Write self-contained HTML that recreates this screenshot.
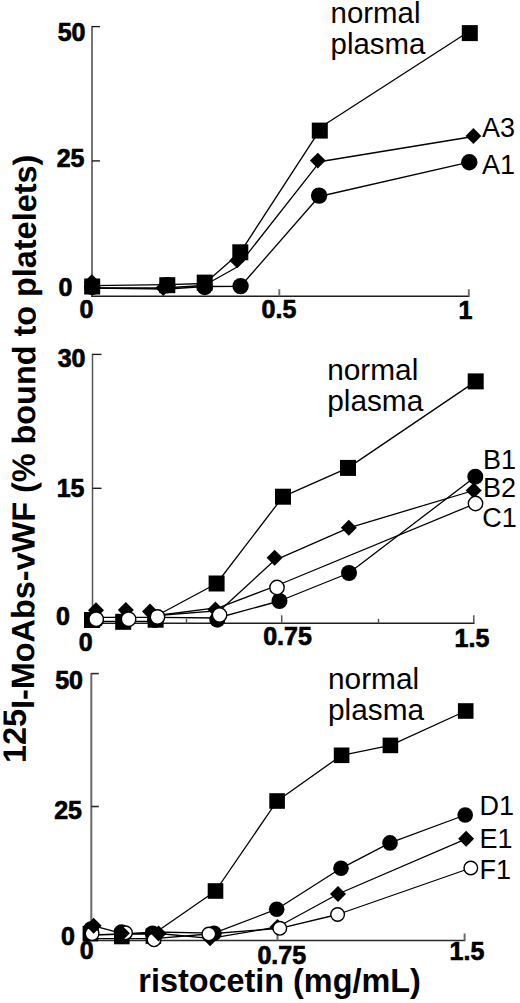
<!DOCTYPE html>
<html><head><meta charset="utf-8"><style>
html,body{margin:0;padding:0;background:#fff;width:520px;height:1003px;overflow:hidden}
svg{display:block;font-family:"Liberation Sans",sans-serif}
</style></head><body>
<svg width="520" height="1003" viewBox="0 0 520 1003">
<path d="M92.0 26.0V296.2" fill="none" stroke="#6e6e6e" stroke-width="1.9"/>
<path d="M91.1 296.2H469.5" fill="none" stroke="#1e1e1e" stroke-width="1.4"/>
<path d="M92.0 26.6h8" stroke="#1e1e1e" stroke-width="1.4"/>
<path d="M92.0 160.9h8" stroke="#1e1e1e" stroke-width="1.4"/>
<path d="M279.3 296.2v-7" stroke="#6e6e6e" stroke-width="1.9"/>
<path d="M468.8 296.2v-7" stroke="#6e6e6e" stroke-width="1.9"/>
<path d="M92.5 353.79999999999995V623.3" fill="none" stroke="#555" stroke-width="1.5"/>
<path d="M91.6 623.3H474.5" fill="none" stroke="#1e1e1e" stroke-width="1.4"/>
<path d="M92.5 354.4h9" stroke="#1e1e1e" stroke-width="1.4"/>
<path d="M92.5 488.3h9" stroke="#1e1e1e" stroke-width="1.4"/>
<path d="M186.5 623.3v-4.5" stroke="#555" stroke-width="1.5"/>
<path d="M281.7 623.3v-8" stroke="#555" stroke-width="1.5"/>
<path d="M378.5 623.3v-4.5" stroke="#555" stroke-width="1.5"/>
<path d="M473.8 623.3v-8" stroke="#555" stroke-width="1.5"/>
<path d="M91.3 673.0V940.5" fill="none" stroke="#6a6a6a" stroke-width="2.0"/>
<path d="M90.39999999999999 940.5H465.3" fill="none" stroke="#2a2a2a" stroke-width="1.6"/>
<path d="M91.3 673.6h7.5" stroke="#2a2a2a" stroke-width="1.6"/>
<path d="M91.3 806.5h7.5" stroke="#2a2a2a" stroke-width="1.6"/>
<path d="M277.5 940.5v-7" stroke="#6a6a6a" stroke-width="2.0"/>
<path d="M464.6 940.5v-7" stroke="#6a6a6a" stroke-width="2.0"/>
<path d="M92.0 285.7L167.3 284.6L204.7 283.5L240.3 252.3L319.8 130.2" fill="none" stroke="#000" stroke-width="1.3" stroke-linejoin="round"/>
<path d="M319.8 127.8L469.8 31.0" fill="none" stroke="#000" stroke-width="1.3" stroke-linejoin="round"/>
<path d="M92.0 288.0L163.3 288.0L204.0 285.5L237.2 267.0L317.8 164.4" fill="none" stroke="#000" stroke-width="1.3" stroke-linejoin="round"/>
<path d="M317.8 162.0L473.4 136.5" fill="none" stroke="#000" stroke-width="1.3" stroke-linejoin="round"/>
<path d="M92.0 288.0L167.3 289.0L204.7 286.5L240.6 286.3L319.1 196.5L469.3 162.2" fill="none" stroke="#000" stroke-width="1.3" stroke-linejoin="round"/>
<path d="M96.0 617.3L126.0 617.3L157.0 617.3L217.3 618.0L279.5 601.0L349.0 573.0L475.3 476.7" fill="none" stroke="#000" stroke-width="1.3" stroke-linejoin="round"/>
<path d="M92.0 621.3L123.2 621.3L157.0 621.3" fill="none" stroke="#000" stroke-width="1.3" stroke-linejoin="round"/>
<path d="M157.0 615.5L216.6 583.5L283.0 496.7L348.0 467.9L475.7 381.4" fill="none" stroke="#000" stroke-width="1.3" stroke-linejoin="round"/>
<path d="M157.0 615.5L219.6 610.7L274.6 560.3L348.8 527.8L473.7 490.5" fill="none" stroke="#000" stroke-width="1.3" stroke-linejoin="round"/>
<path d="M157.0 615.5L219.6 607.4L277.0 585.5L475.5 503.5" fill="none" stroke="#000" stroke-width="1.3" stroke-linejoin="round"/>
<path d="M93.6 925.8L121.9 933.3L158.6 933.5L210.1 938.3L277.5 927.0L338.0 894.0L466.1 838.8" fill="none" stroke="#000" stroke-width="1.3" stroke-linejoin="round"/>
<path d="M92.0 934.6L121.5 934.3L153.0 932.0L214.0 933.2L276.7 909.2L341.0 868.3L390.0 842.9L465.2 815.0" fill="none" stroke="#000" stroke-width="1.3" stroke-linejoin="round"/>
<path d="M92.0 938.6L125.5 938.6L154.0 938.6L208.8 934.0L279.8 928.3L337.6 914.5L470.8 868.0" fill="none" stroke="#000" stroke-width="1.3" stroke-linejoin="round"/>
<path d="M91.5 935.0L121.8 934.0L153.4 934.0L215.5 891.0L277.1 801.0L341.6 755.3L390.4 745.4L465.7 711.0" fill="none" stroke="#000" stroke-width="1.3" stroke-linejoin="round"/>
<circle cx="92.2" cy="287.0" r="8.2" fill="#000"/>
<circle cx="167.3" cy="285.3" r="8.2" fill="#000"/>
<circle cx="204.7" cy="287.0" r="8.2" fill="#000"/>
<circle cx="240.6" cy="286.1" r="8.2" fill="#000"/>
<circle cx="319.1" cy="195.6" r="8.2" fill="#000"/>
<circle cx="469.3" cy="162.2" r="8.2" fill="#000"/>
<path d="M91.8 274.2L99.7 282.1L91.8 290.0L83.9 282.1Z" fill="#000"/>
<path d="M163.3 280.1L171.2 288.0L163.3 295.9L155.4 288.0Z" fill="#000"/>
<path d="M204.0 277.1L211.9 285.0L204.0 292.9L196.1 285.0Z" fill="#000"/>
<path d="M237.2 252.5L245.1 260.4L237.2 268.3L229.3 260.4Z" fill="#000"/>
<path d="M317.8 152.7L325.7 160.6L317.8 168.5L309.9 160.6Z" fill="#000"/>
<path d="M473.4 128.1L481.3 136.0L473.4 143.9L465.5 136.0Z" fill="#000"/>
<rect x="84.2" y="278.5" width="16" height="16" fill="#000"/>
<rect x="159.3" y="277.2" width="16" height="16" fill="#000"/>
<rect x="196.7" y="274.6" width="16" height="16" fill="#000"/>
<rect x="232.3" y="244.3" width="16" height="16" fill="#000"/>
<rect x="311.8" y="122.6" width="16" height="16" fill="#000"/>
<rect x="461.8" y="25.1" width="16" height="16" fill="#000"/>
<rect x="84.0" y="612.0" width="16" height="16" fill="#000"/>
<rect x="115.2" y="613.8" width="16" height="16" fill="#000"/>
<rect x="147.6" y="611.7" width="16" height="16" fill="#000"/>
<rect x="208.6" y="575.5" width="16" height="16" fill="#000"/>
<rect x="275.0" y="488.7" width="16" height="16" fill="#000"/>
<rect x="340.0" y="459.9" width="16" height="16" fill="#000"/>
<rect x="467.7" y="373.4" width="16" height="16" fill="#000"/>
<path d="M96.0 602.2L104.0 610.2L96.0 618.2L88.0 610.2Z" fill="#000"/>
<path d="M125.8 602.0L133.8 610.0L125.8 618.0L117.8 610.0Z" fill="#000"/>
<path d="M150.0 603.5L158.0 611.5L150.0 619.5L142.0 611.5Z" fill="#000"/>
<path d="M215.4 601.5L223.4 609.5L215.4 617.5L207.4 609.5Z" fill="#000"/>
<path d="M274.6 549.7L282.6 557.7L274.6 565.7L266.6 557.7Z" fill="#000"/>
<path d="M348.8 519.8L356.8 527.8L348.8 535.8L340.8 527.8Z" fill="#000"/>
<path d="M473.7 482.5L481.7 490.5L473.7 498.5L465.7 490.5Z" fill="#000"/>
<circle cx="96.0" cy="620.0" r="8" fill="#000"/>
<circle cx="126.0" cy="620.0" r="8" fill="#000"/>
<circle cx="155.0" cy="620.0" r="8" fill="#000"/>
<circle cx="217.3" cy="619.7" r="8" fill="#000"/>
<circle cx="279.5" cy="601.0" r="8" fill="#000"/>
<circle cx="349.0" cy="573.0" r="8" fill="#000"/>
<circle cx="475.3" cy="476.7" r="8" fill="#000"/>
<circle cx="96.2" cy="619.2" r="7.2" fill="#fff" stroke="#000" stroke-width="1.4"/>
<circle cx="128.6" cy="619.2" r="7.2" fill="#fff" stroke="#000" stroke-width="1.4"/>
<circle cx="157.5" cy="616.9" r="7.2" fill="#fff" stroke="#000" stroke-width="1.4"/>
<circle cx="219.6" cy="615.0" r="7.2" fill="#fff" stroke="#000" stroke-width="1.4"/>
<circle cx="277.0" cy="587.5" r="7.2" fill="#fff" stroke="#000" stroke-width="1.4"/>
<circle cx="475.5" cy="503.5" r="7.2" fill="#fff" stroke="#000" stroke-width="1.4"/>
<rect x="82.6" y="925.8" width="15.6" height="15.6" fill="#000"/>
<rect x="114.0" y="928.7" width="15.6" height="15.6" fill="#000"/>
<rect x="145.6" y="928.3" width="15.6" height="15.6" fill="#000"/>
<rect x="207.7" y="883.2" width="15.6" height="15.6" fill="#000"/>
<rect x="269.3" y="793.2" width="15.6" height="15.6" fill="#000"/>
<rect x="333.8" y="747.5" width="15.6" height="15.6" fill="#000"/>
<rect x="382.6" y="737.6" width="15.6" height="15.6" fill="#000"/>
<rect x="457.9" y="703.2" width="15.6" height="15.6" fill="#000"/>
<circle cx="91.0" cy="929.0" r="7.8" fill="#000"/>
<circle cx="121.5" cy="932.0" r="7.8" fill="#000"/>
<circle cx="152.5" cy="933.2" r="7.8" fill="#000"/>
<circle cx="214.0" cy="933.2" r="7.8" fill="#000"/>
<circle cx="276.7" cy="909.2" r="7.8" fill="#000"/>
<circle cx="341.0" cy="868.3" r="7.8" fill="#000"/>
<circle cx="390.0" cy="842.9" r="7.8" fill="#000"/>
<circle cx="465.2" cy="815.0" r="7.8" fill="#000"/>
<circle cx="92.1" cy="933.6" r="6.8" fill="#fff" stroke="#000" stroke-width="1.4"/>
<circle cx="125.5" cy="932.8" r="6.8" fill="#fff" stroke="#000" stroke-width="1.4"/>
<circle cx="154.0" cy="939.8" r="6.8" fill="#fff" stroke="#000" stroke-width="1.4"/>
<path d="M210.1 930.3L218.1 938.3L210.1 946.3L202.1 938.3Z" fill="#000"/>
<circle cx="208.8" cy="934.0" r="6.8" fill="#fff" stroke="#000" stroke-width="1.4"/>
<path d="M277.5 919.0L285.5 927.0L277.5 935.0L269.5 927.0Z" fill="#000"/>
<circle cx="279.8" cy="928.3" r="6.8" fill="#fff" stroke="#000" stroke-width="1.4"/>
<circle cx="337.6" cy="914.5" r="6.8" fill="#fff" stroke="#000" stroke-width="1.4"/>
<circle cx="470.8" cy="868.0" r="6.8" fill="#fff" stroke="#000" stroke-width="1.4"/>
<path d="M93.6 917.8L101.6 925.8L93.6 933.8L85.6 925.8Z" fill="#000"/>
<path d="M121.9 925.3L129.9 933.3L121.9 941.3L113.9 933.3Z" fill="#000"/>
<path d="M158.6 925.5L166.6 933.5L158.6 941.5L150.6 933.5Z" fill="#000"/>
<path d="M338.0 886.0L346.0 894.0L338.0 902.0L330.0 894.0Z" fill="#000"/>
<path d="M466.1 830.8L474.1 838.8L466.1 846.8L458.1 838.8Z" fill="#000"/>
<text x="85.5" y="41" font-size="25" font-weight="bold" text-anchor="end" stroke="#000" stroke-width="0.7">50</text>
<text x="84.5" y="166.5" font-size="25" font-weight="bold" text-anchor="end" stroke="#000" stroke-width="0.7">25</text>
<text x="72.5" y="295.5" font-size="25" font-weight="bold" text-anchor="end" stroke="#000" stroke-width="0.7">0</text>
<text x="85.5" y="366.5" font-size="25" font-weight="bold" text-anchor="end" stroke="#000" stroke-width="0.7">30</text>
<text x="84.5" y="496.5" font-size="25" font-weight="bold" text-anchor="end" stroke="#000" stroke-width="0.7">15</text>
<text x="70" y="625" font-size="25" font-weight="bold" text-anchor="end" stroke="#000" stroke-width="0.7">0</text>
<text x="83" y="689" font-size="25" font-weight="bold" text-anchor="end" stroke="#000" stroke-width="0.7">50</text>
<text x="82" y="818.6" font-size="25" font-weight="bold" text-anchor="end" stroke="#000" stroke-width="0.7">25</text>
<text x="75" y="945.4" font-size="25" font-weight="bold" text-anchor="end" stroke="#000" stroke-width="0.7">0</text>
<text x="86.5" y="317.5" font-size="25" font-weight="bold" text-anchor="middle" stroke="#000" stroke-width="0.7">0</text>
<text x="279" y="318" font-size="25" font-weight="bold" text-anchor="middle" stroke="#000" stroke-width="0.7">0.5</text>
<text x="465.5" y="318.5" font-size="25" font-weight="bold" text-anchor="middle" stroke="#000" stroke-width="0.7">1</text>
<text x="85.6" y="650.5" font-size="25" font-weight="bold" text-anchor="middle" stroke="#000" stroke-width="0.7">0</text>
<text x="287.5" y="645.2" font-size="25" font-weight="bold" text-anchor="middle" stroke="#000" stroke-width="0.7">0.75</text>
<text x="472" y="647" font-size="25" font-weight="bold" text-anchor="middle" stroke="#000" stroke-width="0.7">1.5</text>
<text x="86.6" y="959" font-size="25" font-weight="bold" text-anchor="middle" stroke="#000" stroke-width="0.7">0</text>
<text x="281.8" y="963.5" font-size="25" font-weight="bold" text-anchor="middle" stroke="#000" stroke-width="0.7">0.75</text>
<text x="467" y="960" font-size="25" font-weight="bold" text-anchor="middle" stroke="#000" stroke-width="0.7">1.5</text>
<text x="330.6" y="22.8" font-size="29.4" text-anchor="start">normal</text>
<text x="330.6" y="53.9" font-size="29.4" text-anchor="start">plasma</text>
<text x="327.2" y="379.6" font-size="29.8" text-anchor="start">normal</text>
<text x="327.2" y="411.2" font-size="29.8" text-anchor="start">plasma</text>
<text x="328.0" y="688.8" font-size="29.8" text-anchor="start">normal</text>
<text x="328.0" y="720.4" font-size="29.8" text-anchor="start">plasma</text>
<text x="482" y="136.9" font-size="27" text-anchor="start">A3</text>
<text x="482" y="173.5" font-size="27" text-anchor="start">A1</text>
<text x="483" y="468.8" font-size="27" text-anchor="start">B1</text>
<text x="483" y="496.7" font-size="27" text-anchor="start">B2</text>
<text x="482.3" y="526.5" font-size="27" text-anchor="start">C1</text>
<text x="479.5" y="815" font-size="27" text-anchor="start">D1</text>
<text x="479.5" y="847.7" font-size="27" text-anchor="start">E1</text>
<text x="479.5" y="879.4" font-size="27" text-anchor="start">F1</text>
<text x="138.3" y="992.3" font-size="32.4" font-weight="bold">ristocetin (mg/mL)</text>
<text transform="translate(33.7 763) rotate(-89.77)" font-size="32.4" font-weight="bold"><tspan dy="-8">125</tspan><tspan dy="8">I-MoAbs-vWF (% bound to platelets)</tspan></text>
</svg>
</body></html>
